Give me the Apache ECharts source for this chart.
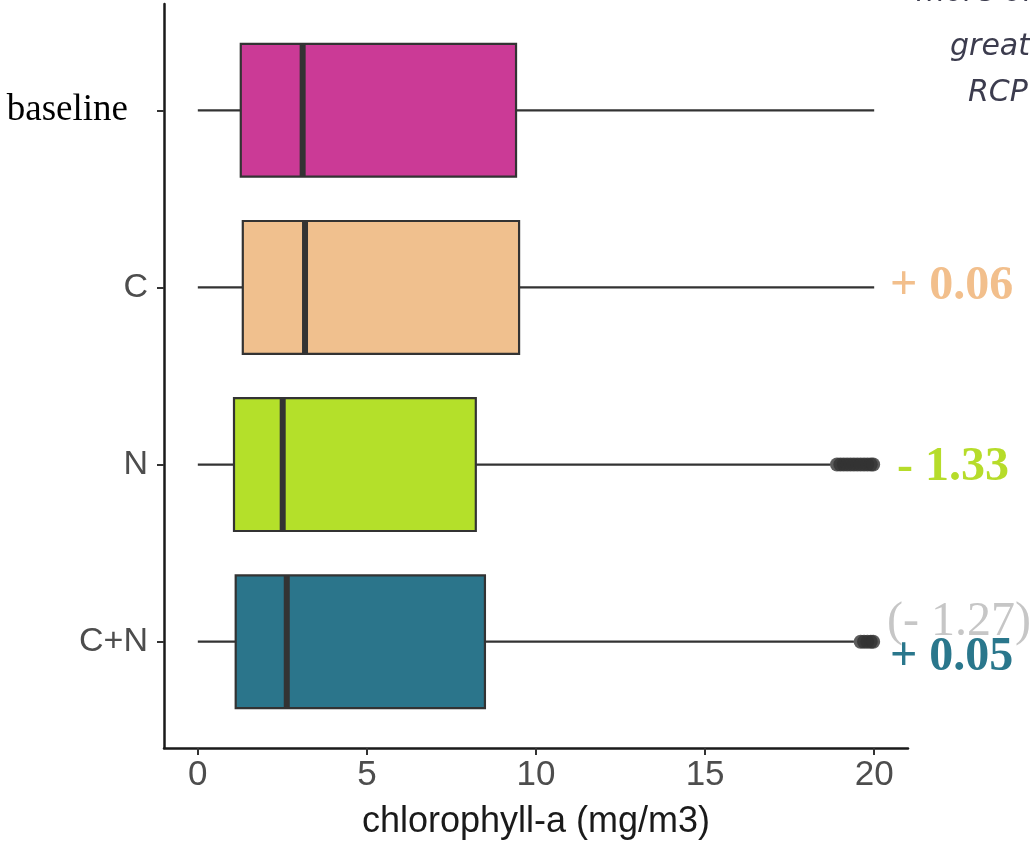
<!DOCTYPE html>
<html>
<head>
<meta charset="utf-8">
<script src="https://cdn.jsdelivr.net/npm/echarts@6/dist/echarts.min.js"></script>
<style>html,body{margin:0;padding:0;background:#fff}#c{width:1030px;height:845px}</style>
</head>
<body>
<div id="c"></div>
<script>
// ---- data ----
const categories = ['baseline', 'C', 'N', 'C+N'];
const boxColors = ['#cb3a96', '#f0c08e', '#b4e02a', '#2b758b'];
// [whiskerLow, Q1, median, Q3, whiskerHigh]
const baselineStats = [0, 1.27, 3.1, 9.41, 20.0];
const cStats = [0, 1.33, 3.17, 9.5, 20.0];
const nStats = [0, 1.07, 2.51, 8.22, 18.7];
const cnStats = [0, 1.12, 2.63, 8.49, 19.4];
const nOutliers = [18.9, 19.0, 19.1, 19.2, 19.3, 19.4, 19.5, 19.6, 19.7, 19.8, 19.9, 19.97];
const cnOutliers = [19.6, 19.7, 19.8, 19.9, 19.97];
const xTicks = [0, 5, 10, 15, 20];
const annotations = ['+ 0.06', '- 1.33', '(- 1.27)', '+ 0.05'];
const xName = 'chlorophyll-a (mg/m3)';

const stats = [baselineStats, cStats, nStats, cnStats];
const boxData = stats.map((s, i) => [i + 1].concat(s));
const outlierData = []
  .concat(nOutliers.map(v => [v, 3]))
  .concat(cnOutliers.map(v => [v, 4]));

const chart = echarts.init(document.getElementById('c'));

function renderBox(params, api) {
  const cat = api.value(0);
  const lo = api.value(1), q1 = api.value(2), med = api.value(3), q3 = api.value(4), hi = api.value(5);
  const pLo = api.coord([lo, cat]);
  const pHi = api.coord([hi, cat]);
  const pQ1 = api.coord([q1, cat]);
  const pQ3 = api.coord([q3, cat]);
  const pMed = api.coord([med, cat]);
  const h = api.size([0, 0.75])[1];
  const y = pLo[1];
  const idx = params.dataIndex;
  return {
    type: 'group',
    children: [
      { type: 'line', shape: { x1: pLo[0], y1: y, x2: pHi[0], y2: y },
        style: { stroke: '#333', lineWidth: 2.2 } },
      { type: 'rect', shape: { x: pQ1[0], y: y - h / 2, width: pQ3[0] - pQ1[0], height: h },
        style: { fill: boxColors[idx], stroke: '#333', lineWidth: 2.2 } },
      { type: 'line', shape: { x1: pMed[0], y1: y - h / 2, x2: pMed[0], y2: y + h / 2 },
        style: { stroke: '#333', lineWidth: 6 } }
    ]
  };
}

const option = {
  animation: false,
  backgroundColor: '#fff',
  grid: { left: 164, right: 122, top: 4, bottom: 93, containLabel: false },
  xAxis: {
    type: 'value', min: -1, max: 21,
    name: xName, nameLocation: 'middle', nameGap: 56,
    nameTextStyle: { fontFamily: 'Liberation Sans', fontSize: 36, color: '#1a1a1a' },
    axisLine: { show: true, onZero: false, lineStyle: { color: '#1a1a1a', width: 2.5 } },
    axisTick: { show: true, customValues: xTicks, length: 7, lineStyle: { color: '#333', width: 2 } },
    axisLabel: { customValues: xTicks, margin: 10, fontFamily: 'Liberation Sans', fontSize: 35, color: '#4d4d4d' },
    splitLine: { show: false }
  },
  yAxis: {
    type: 'value', min: 0.4, max: 4.6, inverse: true,
    axisLine: { show: true, onZero: false, lineStyle: { color: '#1a1a1a', width: 2.5 } },
    axisTick: { show: true, customValues: [1, 2, 3, 4], length: 7, lineStyle: { color: '#333', width: 2 } },
    axisLabel: {
      customValues: [1, 2, 3, 4], margin: 16,
      formatter: v => v === 1 ? '{b|' + categories[0] + '}' : '{s|' + categories[Math.round(v) - 1] + '}',
      rich: {
        b: { fontFamily: 'Liberation Serif', fontSize: 37, color: '#000', padding: [0, 20, 0, 0] },
        s: { fontFamily: 'Liberation Sans', fontSize: 34, color: '#4d4d4d' }
      }
    },
    splitLine: { show: false }
  },
  series: [
    {
      type: 'custom', renderItem: renderBox, data: boxData,
      encode: { x: [1, 2, 3, 4, 5], y: 0 }, z: 2
    },
    {
      type: 'scatter', data: outlierData, symbolSize: 14,
      itemStyle: { color: '#333' }, z: 3
    }
  ],
  graphic: [
    { type: 'text', left: 890, top: 263, style: { text: annotations[0], font: 'bold 48px "Liberation Serif"', fill: '#f2bf8c' } },
    { type: 'text', left: 897, top: 444, style: { text: annotations[1], font: 'bold 48px "Liberation Serif"', fill: '#b6dc2a' } },
    { type: 'text', left: 887, top: 598, style: { text: annotations[2], font: '48px "Liberation Serif"', fill: '#c6c6c6' } },
    { type: 'text', left: 890, top: 634, style: { text: annotations[3], font: 'bold 48px "Liberation Serif"', fill: '#2a778c' } },
    { type: 'text', left: 916, top: -22, style: { text: 'more of a', font: 'italic 30px "DejaVu Sans"', fill: '#3c3c4e' } },
    { type: 'text', left: 950, top: 32, style: { text: 'greater', font: 'italic 30px "DejaVu Sans"', fill: '#3c3c4e' } },
    { type: 'text', left: 968, top: 78, style: { text: 'RCP', font: 'italic 30px "DejaVu Sans"', fill: '#3c3c4e' } }
  ]
};
chart.setOption(option);
</script>
</body>
</html>
